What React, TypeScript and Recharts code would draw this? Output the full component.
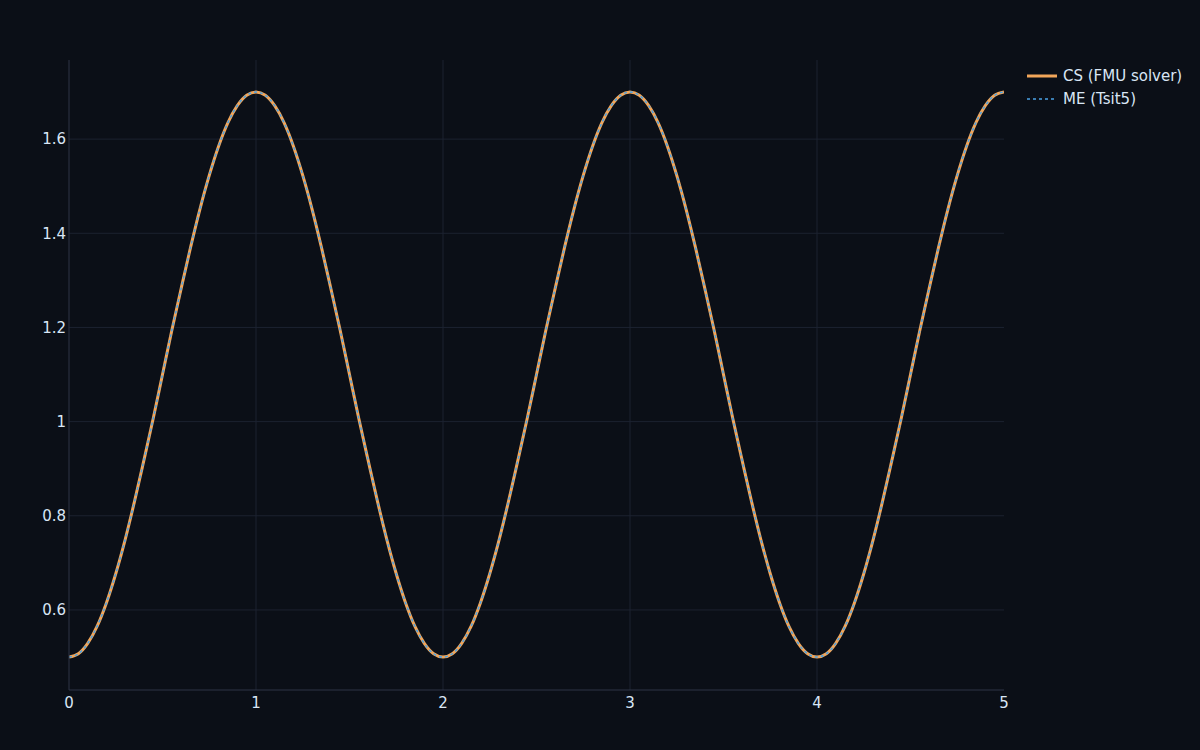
import { LineChart, Line, XAxis, YAxis, Legend, ReferenceLine } from "recharts";

// sample times (s), step 0.05
const time: number[] = Array.from({ length: 101 }, (_, i) => i / 20);

// CS (FMU solver) output
const csValues: number[] = [
  0.500, 0.507, 0.529, 0.565, 0.615, 0.677, 0.749, 0.830, 0.917, 1.006,
  1.100, 1.194, 1.283, 1.370, 1.451, 1.523, 1.585, 1.635, 1.671, 1.693,
  1.700, 1.693, 1.671, 1.635, 1.585, 1.523, 1.451, 1.370, 1.283, 1.194,
  1.100, 1.006, 0.917, 0.830, 0.749, 0.677, 0.615, 0.565, 0.529, 0.507,
  0.500, 0.507, 0.529, 0.565, 0.615, 0.677, 0.749, 0.830, 0.917, 1.006,
  1.100, 1.194, 1.283, 1.370, 1.451, 1.523, 1.585, 1.635, 1.671, 1.693,
  1.700, 1.693, 1.671, 1.635, 1.585, 1.523, 1.451, 1.370, 1.283, 1.194,
  1.100, 1.006, 0.917, 0.830, 0.749, 0.677, 0.615, 0.565, 0.529, 0.507,
  0.500, 0.507, 0.529, 0.565, 0.615, 0.677, 0.749, 0.830, 0.917, 1.006,
  1.100, 1.194, 1.283, 1.370, 1.451, 1.523, 1.585, 1.635, 1.671, 1.693,
  1.700,
];

// ME (Tsit5) output overlaps the CS curve
const meValues: number[] = [...csValues];

const xTicks = [0, 1, 2, 3, 4, 5];
const xGridLines = [1, 2, 3, 4];
const yTicks = [0.6, 0.8, 1, 1.2, 1.4, 1.6];

const seriesNames = ["CS (FMU solver)", "ME (Tsit5)"];

const data = time.map((t, i) => ({ t, cs: csValues[i], me: meValues[i] }));

const BG = "#0b0f17";
const GRID = "#1c2230";
const AXIS = "#2e3546";
const TEXT = "#d9e6f5";
const ORANGE = "#f2a65a";
const BLUE = "#4ba3e6";

const font = "'DejaVu Sans', sans-serif";

function LegendBox() {
  return (
    <div style={{ fontFamily: font, fontSize: 15, color: TEXT }}>
      <div style={{ display: "flex", alignItems: "center", height: 23 }}>
        <svg width={38} height={10}>
          <line x1={2} y1={5} x2={32} y2={5} stroke={ORANGE} strokeWidth={3} />
        </svg>
        <span>{seriesNames[0]}</span>
      </div>
      <div style={{ display: "flex", alignItems: "center", height: 23 }}>
        <svg width={38} height={10}>
          <line x1={2} y1={5} x2={32} y2={5} stroke={BLUE} strokeWidth={1.5} strokeDasharray="3 3" />
        </svg>
        <span>{seriesNames[1]}</span>
      </div>
    </div>
  );
}

export default function App() {
  return (
    <div style={{ position: "absolute", left: 0, top: 0, width: 1200, height: 750, background: BG }}>
      <LineChart
        width={1200}
        height={750}
        data={data}
        margin={{ top: 60, right: 20, bottom: 0, left: 0 }}
        style={{ fontFamily: font }}
      >
        {yTicks.map((v) => (
          <ReferenceLine key={`y${v}`} y={v} stroke={GRID} strokeWidth={1} />
        ))}
        {xGridLines.map((v) => (
          <ReferenceLine key={`x${v}`} x={v} stroke={GRID} strokeWidth={1} />
        ))}
        <XAxis
          dataKey="t"
          type="number"
          domain={[0, 5]}
          ticks={xTicks}
          height={60}
          stroke={AXIS}
          tickLine={false}
          tickSize={0}
          tick={{ fill: TEXT, fontSize: 15 }}
          tickMargin={7}
          allowDataOverflow
        />
        <YAxis
          type="number"
          domain={[0.43, 1.768]}
          ticks={yTicks}
          width={69}
          stroke={AXIS}
          tickLine={false}
          tickSize={0}
          tick={{ fill: TEXT, fontSize: 15 }}
          tickMargin={3}
          tickFormatter={(v: number) => String(v)}
          allowDataOverflow
        />
        <Legend
          layout="vertical"
          verticalAlign="top"
          align="right"
          content={() => <LegendBox />}
          wrapperStyle={{ left: 1025, top: 64, width: 176 }}
        />
        <Line
          dataKey="cs"
          name={seriesNames[0]}
          type="monotone"
          stroke={ORANGE}
          strokeWidth={3}
          dot={false}
          isAnimationActive={false}
        />
        <Line
          dataKey="me"
          name={seriesNames[1]}
          type="monotone"
          stroke={BLUE}
          strokeWidth={1.5}
          strokeDasharray="3 3"
          dot={false}
          isAnimationActive={false}
        />
      </LineChart>
    </div>
  );
}
